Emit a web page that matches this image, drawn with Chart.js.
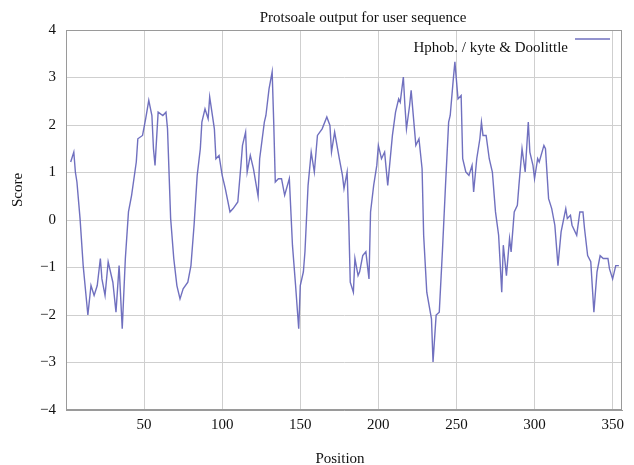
<!DOCTYPE html>
<html>
<head>
<meta charset="utf-8">
<title>Protsoale output for user sequence</title>
<script src="https://cdn.jsdelivr.net/npm/chart.js@4"></script>
<style>
  html, body { margin: 0; padding: 0; background: #fff; }
  #wrap { width: 634px; height: 465px; position: relative; }
</style>
</head>
<body>
<div id="wrap"><canvas id="hphobChart"></canvas></div>
<script>
// Kyte & Doolittle hydrophobicity
const positions = [3, 5, 6, 7, 9, 11, 14, 16, 18, 20, 22, 23, 25, 27, 30, 32, 34, 36, 38, 40,
    42, 45, 46, 49, 51, 53, 55, 56, 57, 59, 62, 64, 65, 67, 69, 71, 73, 75, 78, 80,
    82, 84, 86, 87, 89, 91, 92, 95, 96, 98, 100, 102, 105, 107, 110, 112, 113, 115, 116, 118,
    120, 123, 124, 127, 128, 130, 132, 133, 134, 136, 138, 140, 143, 144, 145, 147, 149, 150, 152, 153,
    155, 157, 159, 161, 164, 167, 169, 170, 172, 175, 177, 178, 180, 181, 182, 184, 185, 187, 188, 190,
    192, 194, 195, 197, 199, 200, 202, 204, 206, 209, 211, 213, 214, 216, 217, 218, 220, 221, 222, 224,
    226, 228, 229, 231, 234, 235, 237, 239, 241, 243, 245, 246, 248, 249, 251, 253, 254, 256, 258, 260,
    261, 263, 265, 266, 267, 269, 271, 273, 275, 277, 279, 280, 282, 284, 285, 287, 289, 290, 292, 294,
    296, 297, 299, 300, 302, 303, 306, 307, 309, 311, 313, 315, 317, 320, 321, 323, 324, 327, 329, 331,
    332, 334, 336, 338, 340, 342, 344, 347, 348, 350, 352, 354];
const scores = [1.22, 1.43, 1.01, 0.8, 0.03, -0.96, -2.0, -1.38, -1.59, -1.38, -0.81, -1.24, -1.59, -0.88, -1.31, -1.94, -0.96, -2.29, -0.81, 0.17,
    0.52, 1.22, 1.71, 1.78, 2.13, 2.52, 2.2, 1.5, 1.15, 2.27, 2.2, 2.27, 1.92, 0.03, -0.81, -1.38, -1.66, -1.45, -1.31, -0.96,
    -0.11, 0.94, 1.5, 2.06, 2.34, 2.13, 2.59, 1.92, 1.29, 1.36, 0.94, 0.66, 0.17, 0.24, 0.38, 1.15, 1.57, 1.85, 1.01, 1.36,
    1.08, 0.5, 1.29, 2.06, 2.2, 2.76, 3.12, 2.06, 0.8, 0.87, 0.87, 0.52, 0.87, 0.17, -0.53, -1.38, -2.29, -1.38, -1.09, -0.67,
    0.73, 1.43, 1.01, 1.78, 1.92, 2.17, 1.99, 1.43, 1.85, 1.29, 0.94, 0.66, 1.01, 0.03, -1.31, -1.52, -0.81, -1.17, -1.09, -0.75,
    -0.67, -1.24, 0.17, 0.73, 1.15, 1.57, 1.29, 1.43, 0.73, 1.78, 2.27, 2.55, 2.48, 3.01, 2.41, 1.92, 2.41, 2.73, 2.34, 1.57,
    1.71, 1.08, -0.32, -1.52, -2.08, -2.99, -2.0, -1.94, -0.67, 0.73, 2.06, 2.2, 2.97, 3.33, 2.55, 2.62, 1.29, 1.01, 0.94, 1.15,
    0.59, 1.29, 1.71, 2.06, 1.78, 1.78, 1.29, 1.01, 0.17, -0.32, -1.52, -0.53, -1.17, -0.39, -0.67, 0.17, 0.31, 0.73, 1.5, 1.01,
    2.06, 1.43, 1.15, 0.87, 1.29, 1.22, 1.57, 1.5, 0.45, 0.24, -0.11, -0.96, -0.25, 0.24, 0.03, 0.1, -0.11, -0.32, 0.17, 0.17,
    -0.18, -0.75, -0.88, -1.94, -1.09, -0.75, -0.81, -0.81, -1.03, -1.24, -0.96, -0.96];
const xTicks = [50, 100, 150, 200, 250, 300, 350];
const yTicks = [-4, -3, -2, -1, 0, 1, 2, 3, 4];

const serif = '"Liberation Serif", "DejaVu Serif", serif';
const lineColor = 'rgba(96, 96, 184, 0.9)';

// Title, axis titles, frame and legend placed the way gnuplot put them
const textPlugin = {
    id: 'gnuplotText',
    afterDraw(chart) {
        const c = chart.ctx;
        const area = chart.chartArea;
        c.save();

        // full frame round the plot
        c.strokeStyle = '#9a9a9a';
        c.lineWidth = 1;
        c.strokeRect(area.left + 0.5, area.top + 0.5, area.right - area.left - 1, area.bottom - area.top - 1);

        c.fillStyle = '#111';
        c.font = '15px ' + serif;
        c.textBaseline = 'middle';

        c.textAlign = 'center';
        c.fillText('Protsoale output for user sequence', 363, 18);
        c.fillText('Position', 340, 459);

        c.save();
        c.translate(18, 190);
        c.rotate(-Math.PI / 2);
        c.fillText('Score', 0, 0);
        c.restore();

        // legend: label then line sample
        c.textAlign = 'right';
        c.fillText('Hphob. / kyte & Doolittle', area.right - 54, 48);
        c.strokeStyle = lineColor;
        c.lineWidth = 1.4;
        c.beginPath();
        c.moveTo(area.right - 47, 39);
        c.lineTo(area.right - 12, 39);
        c.stroke();
        c.restore();
    }
};

const ctx = document.getElementById('hphobChart').getContext('2d');
const hphobChart = new Chart(ctx, {
    type: 'line',
    data: {
        datasets: [{
            label: 'Hphob. / kyte & Doolittle',
            data: positions.map((p, i) => ({ x: p, y: scores[i] })),
            borderColor: lineColor,
            borderWidth: 1.4,
            pointRadius: 0,
            tension: 0,
            fill: false
        }]
    },
    options: {
        responsive: true,
        maintainAspectRatio: false,
        animation: false,
        layout: { padding: { top: 30, right: 12, left: 0, bottom: 0 } },
        plugins: {
            legend: { display: false },
            title: { display: false },
            tooltip: { enabled: false }
        },
        scales: {
            x: {
                type: 'linear',
                min: 0,
                max: 356,
                afterBuildTicks: s => { s.ticks = xTicks.map(v => ({ value: v })); },
                afterFit: s => { s.height = 55; },
                grid: { color: '#cfcfcf', lineWidth: 1, drawTicks: false },
                border: { color: '#9a9a9a', width: 1 },
                ticks: { color: '#111', font: { family: serif, size: 15 }, padding: 6, maxRotation: 0 }
            },
            y: {
                min: -4,
                max: 4,
                afterBuildTicks: s => { s.ticks = yTicks.map(v => ({ value: v })); },
                afterFit: s => { s.width = 66; },
                grid: { color: '#cfcfcf', lineWidth: 1, drawTicks: false },
                border: { color: '#9a9a9a', width: 1 },
                ticks: {
                    color: '#111',
                    font: { family: serif, size: 15 },
                    padding: 10,
                    callback: v => (v < 0 ? '\u2212' + Math.abs(v) : String(v))
                }
            }
        }
    },
    plugins: [textPlugin]
});
</script>
</body>
</html>
